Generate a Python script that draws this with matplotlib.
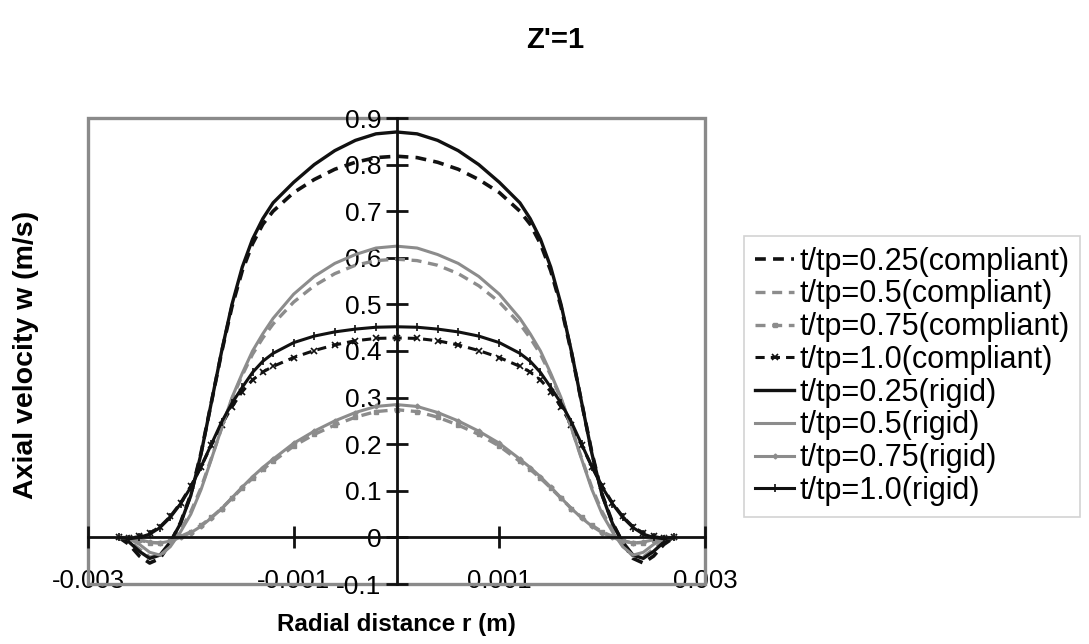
import numpy as np
import matplotlib
matplotlib.use('Agg')
import matplotlib.pyplot as plt
from matplotlib.patches import Rectangle

plt.rcParams['font.family'] = ['Liberation Sans', 'DejaVu Sans']

# radial positions (m)
r = [-0.0027, -0.0026, -0.0025, -0.0024, -0.0023, -0.0022, -0.0021, -0.0020,
     -0.0019, -0.0018, -0.0017, -0.0016, -0.0015, -0.0014, -0.0013, -0.0012,
     -0.0010, -0.0008, -0.0006, -0.0004, -0.0002, 0.0,
     0.0002, 0.0004, 0.0006, 0.0008, 0.0010, 0.0012, 0.0013, 0.0014, 0.0015,
     0.0016, 0.0017, 0.0018, 0.0019, 0.0020, 0.0021, 0.0022, 0.0023, 0.0024,
     0.0025, 0.0026, 0.0027]

# compliant wall
w_c025 = [0.000, -0.015, -0.040, -0.055, -0.045, -0.012, 0.032, 0.092, 0.182, 0.290, 0.398,
          0.495, 0.572, 0.630, 0.672, 0.700, 0.740, 0.768, 0.790, 0.805, 0.815,
          0.818,
          0.815, 0.805, 0.790, 0.768, 0.740, 0.700, 0.672, 0.630, 0.572, 0.495,
          0.398, 0.290, 0.182, 0.092, 0.032, -0.012, -0.045, -0.055, -0.040, -0.015, 0.000]
w_c05 = [0.000, -0.008, -0.025, -0.042, -0.040, -0.018, 0.016, 0.055, 0.107, 0.170, 0.235,
         0.297, 0.348, 0.393, 0.428, 0.458, 0.505, 0.540, 0.566, 0.584, 0.594,
         0.597,
         0.594, 0.584, 0.566, 0.540, 0.505, 0.458, 0.428, 0.393, 0.348, 0.297,
         0.235, 0.170, 0.107, 0.055, 0.016, -0.018, -0.040, -0.042, -0.025, -0.008, 0.000]
w_c075 = [0.000, -0.002, -0.006, -0.011, -0.012, -0.007, 0.002, 0.012, 0.026, 0.043, 0.062,
          0.084, 0.106, 0.127, 0.146, 0.163, 0.196, 0.221, 0.241, 0.258, 0.270,
          0.274,
          0.270, 0.258, 0.241, 0.221, 0.196, 0.163, 0.146, 0.127, 0.106, 0.084,
          0.062, 0.043, 0.026, 0.012, 0.002, -0.007, -0.012, -0.011, -0.006, -0.002, 0.000]
w_c10 = [0.000, -0.002, 0.002, 0.009, 0.023, 0.045, 0.074, 0.110, 0.152, 0.198, 0.242,
         0.280, 0.313, 0.338, 0.355, 0.367, 0.386, 0.401, 0.413, 0.422, 0.427,
         0.428,
         0.427, 0.422, 0.413, 0.401, 0.386, 0.367, 0.355, 0.338, 0.313, 0.280,
         0.242, 0.198, 0.152, 0.110, 0.074, 0.045, 0.023, 0.009, 0.002, -0.002, 0.000]

# rigid wall
w_r025 = [0.000, -0.010, -0.030, -0.045, -0.038, -0.010, 0.030, 0.090, 0.180, 0.290, 0.400,
          0.500, 0.580, 0.640, 0.684, 0.718, 0.762, 0.800, 0.830, 0.852, 0.866,
          0.870,
          0.866, 0.852, 0.830, 0.800, 0.762, 0.718, 0.684, 0.640, 0.580, 0.500,
          0.400, 0.290, 0.180, 0.090, 0.030, -0.010, -0.038, -0.045, -0.030, -0.010, 0.000]
w_r05 = [0.000, -0.003, -0.015, -0.032, -0.038, -0.020, 0.012, 0.050, 0.103, 0.168, 0.235,
         0.300, 0.352, 0.400, 0.437, 0.470, 0.522, 0.560, 0.588, 0.607, 0.621,
         0.625,
         0.621, 0.607, 0.588, 0.560, 0.522, 0.470, 0.437, 0.400, 0.352, 0.300,
         0.235, 0.168, 0.103, 0.050, 0.012, -0.020, -0.038, -0.032, -0.015, -0.003, 0.000]
w_r075 = [0.000, 0.000, -0.005, -0.010, -0.012, -0.008, 0.000, 0.010, 0.024, 0.042, 0.062,
          0.085, 0.108, 0.130, 0.150, 0.168, 0.202, 0.228, 0.250, 0.268, 0.281,
          0.285,
          0.281, 0.268, 0.250, 0.228, 0.202, 0.168, 0.150, 0.130, 0.108, 0.085,
          0.062, 0.042, 0.024, 0.010, 0.000, -0.008, -0.012, -0.010, -0.005, 0.000, 0.000]
w_r10 = [0.000, -0.003, 0.000, 0.007, 0.021, 0.043, 0.072, 0.108, 0.152, 0.200, 0.248,
         0.288, 0.322, 0.354, 0.378, 0.395, 0.418, 0.432, 0.441, 0.447, 0.451,
         0.452,
         0.451, 0.447, 0.441, 0.432, 0.418, 0.395, 0.378, 0.354, 0.322, 0.288,
         0.248, 0.200, 0.152, 0.108, 0.072, 0.043, 0.021, 0.007, 0.000, -0.003, 0.000]

labels = ['t/tp=0.25(compliant)', 't/tp=0.5(compliant)', 't/tp=0.75(compliant)',
          't/tp=1.0(compliant)', 't/tp=0.25(rigid)', 't/tp=0.5(rigid)',
          't/tp=0.75(rigid)', 't/tp=1.0(rigid)']

xticks = [-0.003, -0.001, 0.001, 0.003]
xtick_labels = ['-0.003', '-0.001', '0.001', '0.003']
yticks = [-0.1, 0.0, 0.1, 0.2, 0.3, 0.4, 0.5, 0.6, 0.7, 0.8, 0.9]
ytick_labels = ['-0.1', '0', '0.1', '0.2', '0.3', '0.4', '0.5', '0.6', '0.7', '0.8', '0.9']

BLACK = '#111111'
GRAY = '#8c8c8c'

fig = plt.figure(figsize=(10.89, 6.44), dpi=100)
ax = fig.add_axes([88 / 1089, 1 - 584 / 644, 617 / 1089, 466 / 644])

dash = (0, (3, 2))
ax.plot(r, w_c025, color=BLACK, lw=2.6, ls=dash, label=labels[0])
ax.plot(r, w_c05, color=GRAY, lw=2.4, ls=dash, label=labels[1])
ax.plot(r, w_c075, color=GRAY, lw=2.4, ls=dash, marker='s', ms=3.5,
        mfc=GRAY, mec=GRAY, label=labels[2])
ax.plot(r, w_c10, color=BLACK, lw=2.2, ls=dash, marker='x', ms=5, mew=1.2,
        label=labels[3])
ax.plot(r, w_r025, color=BLACK, lw=2.4, label=labels[4])
ax.plot(r, w_r05, color=GRAY, lw=2.2, label=labels[5])
ax.plot(r, w_r075, color=GRAY, lw=2.2, marker='D', ms=2.5, label=labels[6])
ax.plot(r, w_r10, color=BLACK, lw=2.2, marker='|', ms=6, mew=1.2, label=labels[7])

ax.set_xlim(-0.003, 0.003)
ax.set_ylim(-0.1, 0.9)

# axes crossing at zero, Excel style
for side in ['top', 'right']:
    ax.spines[side].set_visible(False)
for side in ['left', 'bottom']:
    ax.spines[side].set_position(('data', 0))
    ax.spines[side].set_color(BLACK)
    ax.spines[side].set_linewidth(2)

ax.set_xticks(xticks)
ax.tick_params(axis='x', direction='inout', length=16, width=2, color=BLACK,
               labelbottom=False)
ax.set_yticks(yticks, labels=ytick_labels)
ax.tick_params(axis='y', direction='inout', length=16, width=2, color=BLACK,
               labelsize=19, pad=3)

sec = ax.secondary_xaxis('bottom')
sec.set_xticks(xticks, labels=xtick_labels)
sec.tick_params(length=0, labelsize=18.5, pad=-11)
sec.spines['bottom'].set_visible(False)

# gray plot-area border
ax.add_patch(Rectangle((0, 0), 1, 1, transform=ax.transAxes, fill=False,
                       edgecolor='#8a8a8a', lw=2.4, clip_on=False, zorder=0.5))

fig.text(555 / 1089, 1 - 40 / 644, "Z'=1", fontsize=21, fontweight='bold',
         ha='center', va='center')
fig.text(396 / 1089, 1 - 625 / 644, 'Radial distance r (m)', fontsize=17.5,
         fontweight='bold', ha='center', va='center')
fig.text(26 / 1089, 1 - 355 / 644, 'Axial velocity w (m/s)', fontsize=20.5,
         fontweight='bold', ha='center', va='center', rotation=90)

leg = fig.legend(loc='upper left', bbox_to_anchor=(744 / 1089, 1 - 236 / 644),
                 fontsize=22, frameon=True, fancybox=False, edgecolor='#c8c8c8',
                 borderpad=0.35, handlelength=1.3, handletextpad=0.15,
                 labelspacing=0.09, borderaxespad=0)
leg.get_frame().set_linewidth(1.2)

fig.savefig('out.png', dpi=100)
